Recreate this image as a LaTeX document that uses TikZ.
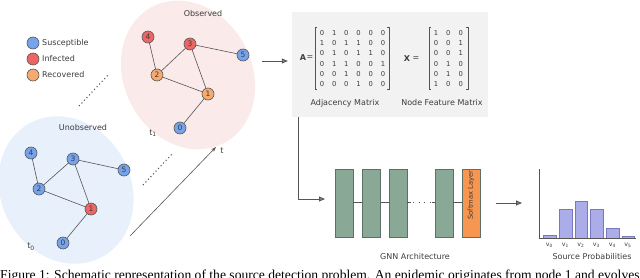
\documentclass[tikz,border=0pt]{standalone}
\usepackage{fontspec}
\setmainfont{DejaVu Sans}
\newfontfamily\capfont{Liberation Serif}
\usetikzlibrary{arrows.meta}
\definecolor{blueN}{RGB}{118,164,236}
\definecolor{redN}{RGB}{236,102,102}
\definecolor{orangeN}{RGB}{246,170,112}
\definecolor{pinkbg}{RGB}{251,234,234}
\definecolor{bluebg}{RGB}{232,240,251}
\definecolor{boxbg}{RGB}{242,242,242}
\definecolor{layergreen}{RGB}{138,168,150}
\definecolor{layeredge}{RGB}{92,112,100}
\definecolor{smorange}{RGB}{247,150,80}
\definecolor{barfill}{RGB}{172,172,232}
\definecolor{baredge}{RGB}{120,120,190}
\definecolor{linec}{RGB}{85,85,85}
\definecolor{textc}{RGB}{60,60,60}
\tikzset{
  gn/.style={circle, draw=linec, line width=0.6pt, minimum size=12pt, inner sep=0pt, font=\fontsize{7.5}{8}\selectfont, text=textc},
  gedge/.style={draw=linec, line width=0.6pt},
  lbl/.style={font=\fontsize{8}{9}\selectfont, text=textc, inner sep=0pt},
  ent/.style={font=\fontsize{6.8}{8}\selectfont, text=textc, inner sep=0pt},
  flow/.style={draw=linec, line width=0.8pt, -{Triangle[length=6pt,width=5pt,fill=gray]}},
  layerbox/.style={draw=layeredge, fill=layergreen, line width=0.6pt},
  bar/.style={draw=baredge, fill=barfill, line width=0.5pt},
  dotline/.style={draw=linec, line width=1.1pt, dash pattern=on 1.1pt off 2.6pt},
}
\begin{document}
\begin{tikzpicture}[x=1pt,y=-1pt]
\useasboundingbox (0,0) rectangle (640,278);
\clip (0,0) rectangle (640,278);

% background ellipses
\fill[pinkbg] (188,75) circle [x radius=64, y radius=77, rotate=28];
\fill[bluebg] (66,190) circle [x radius=65, y radius=76, rotate=28];

% legend
\node[gn, fill=blueN] (ls) at (33,43) {};
\node[gn, fill=redN] (li) at (33,59) {};
\node[gn, fill=orangeN] (lr) at (33,75) {};
\node[lbl, anchor=west] (lst) at (42,43) {Susceptible};
\node[lbl, anchor=west] (lit) at (42,59) {Infected};
\node[lbl, anchor=west] (lrt) at (42,75) {Recovered};

% observed graph
\node[lbl] (obs) at (203,14) {Observed};
\node[gn, fill=redN] (o4) at (148,37) {4};
\node[gn, fill=redN] (o3) at (190,44) {3};
\node[gn, fill=blueN] (o5) at (243,55) {5};
\node[gn, fill=orangeN] (o2) at (157,75) {2};
\node[gn, fill=orangeN] (o1) at (208,94) {1};
\node[gn, fill=blueN] (o0) at (180,128) {0};
\node[lbl] (t1) at (153,133) {t\textsubscript{1}};
\draw[gedge] (o4) -- (o2);
\draw[gedge] (o2) -- (o3);
\draw[gedge] (o3) -- (o5);
\draw[gedge] (o3) -- (o1);
\draw[gedge] (o2) -- (o1);
\draw[gedge] (o1) -- (o0);

% unobserved graph
\node[lbl] (unobs) at (83,128) {Unobserved};
\node[gn, fill=blueN] (u4) at (31,153) {4};
\node[gn, fill=blueN] (u3) at (73,159) {3};
\node[gn, fill=blueN] (u5) at (124,170) {5};
\node[gn, fill=blueN] (u2) at (39,189) {2};
\node[gn, fill=redN] (u1) at (91,209) {1};
\node[gn, fill=blueN] (u0) at (63,243) {0};
\node[lbl] (t0) at (31,247) {t\textsubscript{0}};
\draw[gedge] (u4) -- (u2);
\draw[gedge] (u2) -- (u3);
\draw[gedge] (u3) -- (u5);
\draw[gedge] (u3) -- (u1);
\draw[gedge] (u2) -- (u1);
\draw[gedge] (u1) -- (u0);

% dotted time lines and time arrow
\coordinate (d1a) at (79,106); \coordinate (d1b) at (109,74);
\coordinate (d2a) at (143,185); \coordinate (d2b) at (173,153);
\draw[dotline] (d1a) -- (d1b);
\draw[dotline] (d2a) -- (d2b);
\coordinate (ta) at (130,236);
\node[lbl] (tl) at (222,151) {t};
\draw[draw=linec, line width=0.6pt, -{Stealth[length=5pt,width=3.5pt]}] (ta) -- (216,147);

% matrix box
\fill[boxbg] (292,12) rectangle (488,117);
\coordinate (ain) at (262,61);
\node[inner sep=0pt, minimum size=0pt] (boxw) at (288,61) {};
\draw[flow] (ain) -- (boxw);

\node[lbl, font=\fontsize{8}{9}\selectfont\bfseries] (Alab) at (303,58) {A};
\node[lbl] (Aeq) at (310,58) {=};
\draw[linec, line width=0.5pt] (317,27) -- (315,27) -- (315,89) -- (317,89);
\draw[linec, line width=0.5pt] (387,27) -- (389,27) -- (389,89) -- (387,89);
\foreach \row [count=\i from 0] in {{0,1,0,0,0,0},{1,0,1,1,0,0},{0,1,0,1,1,0},{0,1,1,0,0,1},{0,0,1,0,0,0},{0,0,0,1,0,0}}{
  \foreach \v [count=\j from 0] in \row {
    \node[ent] at ({322+12.2*\j},{33+10.2*\i}) {\v};
  }
}
\node[lbl] (Acap) at (345,103) {Adjacency Matrix};

\node[lbl, font=\fontsize{8}{9}\selectfont\bfseries] (Xlab) at (407,59) {X};
\node[lbl] (Xeq) at (416,59) {=};
\draw[linec, line width=0.5pt] (431,27) -- (429,27) -- (429,89) -- (431,89);
\draw[linec, line width=0.5pt] (466,27) -- (468,27) -- (468,89) -- (466,89);
\foreach \row [count=\i from 0] in {{1,0,0},{0,0,1},{0,0,1},{0,1,0},{0,1,0},{1,0,0}}{
  \foreach \v [count=\j from 0] in \row {
    \node[ent] at ({436+12.4*\j},{33+10.2*\i}) {\v};
  }
}
\node[lbl] (Xcap) at (442,103) {Node Feature Matrix};

% flow down to GNN
\coordinate (down0) at (298,117);
\coordinate (corner) at (298,199);
\coordinate (gin) at (325,199);
\draw[flow] (down0) -- (corner) -- (gin);

% GNN layers
\node[layerbox, minimum width=18pt, minimum height=68pt, inner sep=0pt] (L1) at (344,203) {};
\node[layerbox, minimum width=18pt, minimum height=68pt, inner sep=0pt] (L2) at (371.5,203) {};
\node[layerbox, minimum width=18pt, minimum height=68pt, inner sep=0pt] (L3) at (398,203) {};
\node[layerbox, minimum width=18pt, minimum height=68pt, inner sep=0pt] (L4) at (444,203) {};
\node[draw=layeredge, fill=smorange, line width=0.6pt, minimum width=18pt, minimum height=68pt, inner sep=0pt] (SM) at (471,203) {};
\node[lbl, rotate=90, font=\fontsize{6.8}{8}\selectfont] (smt) at (471,195) {Softmax Layer};
\draw[gedge] (L1.east |- 0,202) -- (L2.west |- 0,202);
\draw[gedge] (L2.east |- 0,202) -- (L3.west |- 0,202);
\coordinate (dd1) at (411,202);
\coordinate (dd2) at (432,202);
\draw[gedge] (L3.east |- 0,202) -- (dd1);
\draw[draw=linec, line width=1pt, dash pattern=on 1pt off 4.5pt] (413,202) -- (dd2);
\draw[gedge] (dd2) -- (L4.west |- 0,202);
\draw[gedge] (L4.east |- 0,202) -- (SM.west |- 0,202);
\node[lbl] (gnncap) at (415,257) {GNN Architecture};

% arrow to chart
\coordinate (ca) at (496,203);
\coordinate (cb) at (522,203);
\draw[flow] (ca) -- (cb);

% bar chart
\draw[bar] (543,235) rectangle (556,238);
\draw[bar] (559,209) rectangle (572,238);
\draw[bar] (575,201) rectangle (587,238);
\draw[bar] (590,209) rectangle (603,238);
\draw[bar] (606,228) rectangle (619,238);
\draw[bar] (622,236) rectangle (634,238);
\draw[linec, line width=0.6pt] (539,169) -- (539,238) -- (636,238);
\foreach \k/\x in {0/549.5,1/565.5,2/581,3/596.5,4/612.5,5/628}{
  \node[ent, font=\fontsize{6.3}{7}\selectfont] at (\x,245) {v\textsubscript{\k}};
}
\node[lbl] (spcap) at (592,257) {Source Probabilities};

% caption (cut off at the lower edge, as in the reference)
\node[anchor=base west, inner sep=0pt, font=\capfont\fontsize{13.6}{15}\selectfont] (cap) at (0,279)
  {Figure 1: Schematic representation of the source detection problem. An epidemic originates from node 1 and evolves};
\end{tikzpicture}
\end{document}
